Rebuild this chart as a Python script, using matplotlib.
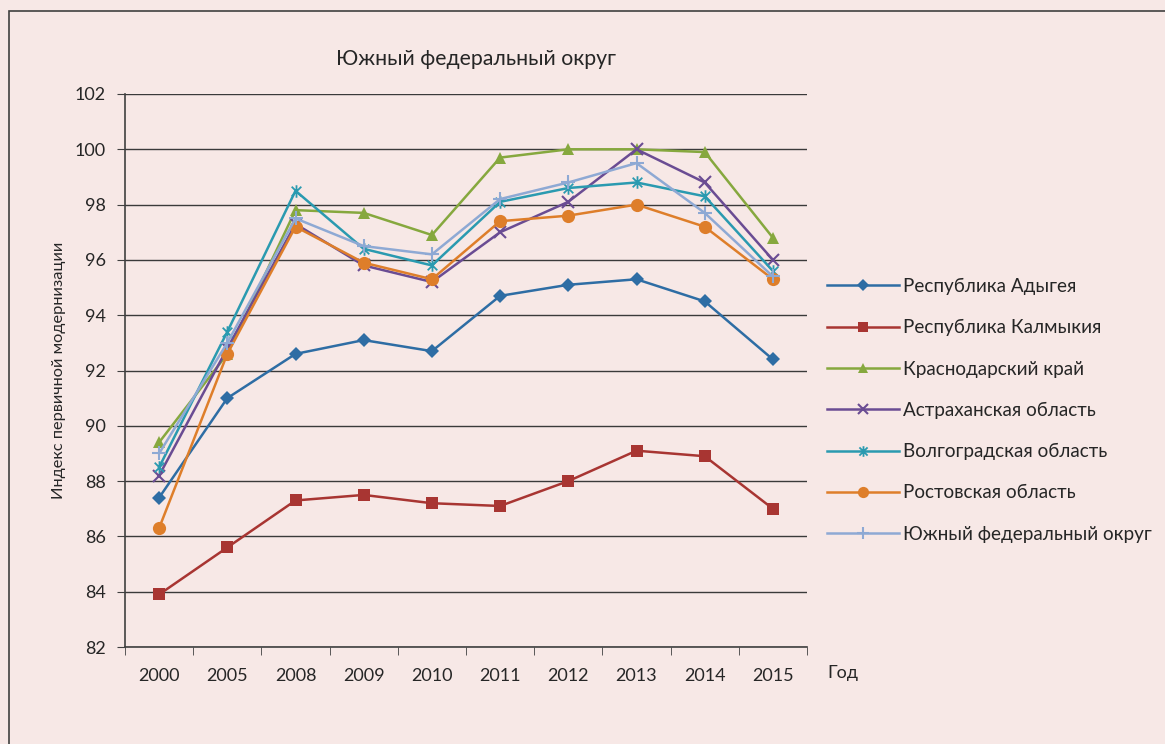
import matplotlib
matplotlib.use("Agg")
import matplotlib.pyplot as plt
from matplotlib.path import Path
from matplotlib.patches import Rectangle

# data
years = ['2000', '2005', '2008', '2009', '2010', '2011', '2012', '2013', '2014', '2015']
adygea = [87.4, 91.0, 92.6, 93.1, 92.7, 94.7, 95.1, 95.3, 94.5, 92.4]
kalmykia = [83.9, 85.6, 87.3, 87.5, 87.2, 87.1, 88.0, 89.1, 88.9, 87.0]
krasnodar = [89.4, 92.6, 97.8, 97.7, 96.9, 99.7, 100.0, 100.0, 99.9, 96.8]
astrakhan = [88.2, 92.8, 97.3, 95.8, 95.2, 97.0, 98.1, 100.0, 98.8, 96.0]
volgograd = [88.5, 93.4, 98.5, 96.4, 95.8, 98.1, 98.6, 98.8, 98.3, 95.6]
rostov = [86.3, 92.6, 97.2, 95.9, 95.3, 97.4, 97.6, 98.0, 97.2, 95.3]
yufo = [89.0, 93.0, 97.5, 96.5, 96.2, 98.2, 98.8, 99.5, 97.7, 95.4]

names = ['Республика Адыгея', 'Республика Калмыкия', 'Краснодарский край',
         'Астраханская область', 'Волгоградская область', 'Ростовская область',
         'Южный федеральный округ']

plt.rcParams['font.family'] = ['Lato', 'DejaVu Sans']

bg = '#f7e8e6'
txt = '#262626'

# asterisk marker (x with a vertical bar) like Excel's star
star = Path([(-1, -1), (1, 1), (-1, 1), (1, -1), (0, -1.3), (0, 1.3)],
            [Path.MOVETO, Path.LINETO, Path.MOVETO, Path.LINETO, Path.MOVETO, Path.LINETO])

series = [
    (adygea, '#2e6da4', 'D', 7, 0),
    (kalmykia, '#a83532', 's', 8.5, 0),
    (krasnodar, '#86a83e', '^', 9, 0),
    (astrakhan, '#6a4c93', 'x', 8, 1.5),
    (volgograd, '#2a9ab0', star, 9, 1.3),
    (rostov, '#de7e2a', 'o', 9.5, 0),
    (yufo, '#8ea9d4', '+', 10, 1.5),
]

fig = plt.figure(figsize=(11.65, 7.44), dpi=100)
fig.patch.set_facecolor(bg)

# outer frame
fig.patches.append(Rectangle((9 / 1165, -0.5), 2, 1.5 - 11 / 744, transform=fig.transFigure,
                             fill=False, edgecolor='#404040', lw=1.2))

ax = fig.add_axes([125 / 1165, 1 - 647 / 744, 682 / 1165, 553 / 744])
ax.set_facecolor(bg)

x = list(range(len(years)))
for (vals, col, mk, ms, mew), name in zip(series, names):
    kw = dict(color=col, lw=1.8, marker=mk, markersize=ms, label=name)
    if mew:
        kw['markeredgewidth'] = mew
        kw['markeredgecolor'] = col
    else:
        kw['markeredgewidth'] = 0
    ax.plot(x, vals, **kw)

ax.set_xlim(-0.5, len(years) - 0.5)
ax.set_ylim(82, 102)
ax.set_yticks(range(82, 103, 2))
ax.set_xticks(x)
ax.set_xticklabels(years)
ax.set_xticks([i - 0.5 for i in range(len(years) + 1)], minor=True)
ax.tick_params(axis='x', which='major', length=0, pad=15, labelsize=13, colors=txt)
ax.tick_params(axis='x', which='minor', length=6, direction='out', color='#404040')
ax.tick_params(axis='y', length=6, direction='out', color='#404040', labelsize=13,
               labelcolor=txt, pad=8)
ax.grid(axis='y', color='#3a3a3a', lw=1)
ax.set_axisbelow(True)
for s in ['top', 'right']:
    ax.spines[s].set_visible(False)
for s in ['left', 'bottom']:
    ax.spines[s].set_color('#404040')
    ax.spines[s].set_linewidth(1.2)

ax.set_ylabel('Индекс первичной модернизации', fontsize=11.8, color=txt)
ax.yaxis.set_label_coords(-0.086, 0.5)
fig.text(476 / 1165, 1 - 59 / 744, 'Южный федеральный округ', ha='center', va='center',
         fontsize=15.3, color=txt)
fig.text(827 / 1165, 1 - 673 / 744, 'Год', ha='left', va='center', fontsize=13, color=txt)

leg = ax.legend(loc='upper left', bbox_to_anchor=(810 / 1165, 1 - 261 / 744),
                bbox_transform=fig.transFigure, frameon=False, fontsize=13.6,
                labelspacing=1.28, handlelength=3.8, handletextpad=0.25, labelcolor=txt)
for line in leg.get_lines():
    line.set_markersize(line.get_markersize() * 0.85)

fig.savefig('out.png', dpi=100, facecolor=bg)
